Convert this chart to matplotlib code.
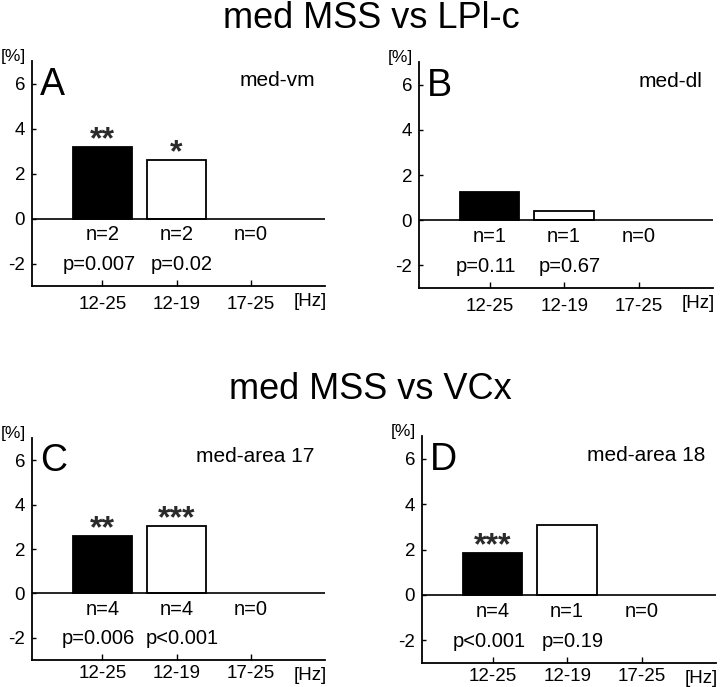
import matplotlib
matplotlib.use('Agg')
import matplotlib.pyplot as plt

plt.rcParams['font.family'] = ['Liberation Sans', 'DejaVu Sans']
plt.rcParams['axes.unicode_minus'] = False

# data
categories = ['12-25', '12-19', '17-25']
panel_letters = ['A', 'B', 'C', 'D']
panel_names = ['med-vm', 'med-dl', 'med-area 17', 'med-area 18']
values_A = [3.17, 2.60]
values_B = [1.23, 0.40]
values_C = [2.58, 3.02]
values_D = [1.85, 3.08]
n_A = ['n=2', 'n=2', 'n=0']
n_B = ['n=1', 'n=1', 'n=0']
n_C = ['n=4', 'n=4', 'n=0']
n_D = ['n=4', 'n=1', 'n=0']
p_A = ['p=0.007', 'p=0.02']
p_B = ['p=0.11', 'p=0.67']
p_C = ['p=0.006', 'p<0.001']
p_D = ['p<0.001', 'p=0.19']
stars_A = ['**', '*']
stars_B = ['', '']
stars_C = ['**', '***']
stars_D = ['***', '']
titles = ['med MSS vs LPl-c', 'med MSS vs VCx']

bar_colors = ['black', 'white']
W, H = 720, 687

fig = plt.figure(figsize=(W / 100, H / 100), dpi=100)


def px_axes(left, right, top, bottom):
    return fig.add_axes([left / W, 1 - bottom / H, (right - left) / W, (bottom - top) / H])


# axes boxes in pixels: left, right, top, bottom
boxes = [(32, 325, 61, 286), (419, 713, 62, 288), (32, 325, 438, 660), (422, 716, 436, 663)]
xpads = [7, 7, 3.5, 3.5]
all_vals = [values_A, values_B, values_C, values_D]
all_n = [n_A, n_B, n_C, n_D]
all_p = [p_A, p_B, p_C, p_D]
all_stars = [stars_A, stars_B, stars_C, stars_D]

xpos = [1, 2, 3]
p_shift = [-0.05, 0.07]
for i, box in enumerate(boxes):
    ax = px_axes(*box)
    vals = all_vals[i]
    ax.bar(xpos[:len(vals)], vals, width=0.8, color=bar_colors, edgecolor='black', lw=1.3, zorder=3)
    ax.axhline(0, color='black', lw=1.2, zorder=4)
    ax.set_xlim(0.05, 4.0)
    ax.set_ylim(-3, 7)
    for s in ['top', 'right']:
        ax.spines[s].set_visible(False)
    for s in ['left', 'bottom']:
        ax.spines[s].set_linewidth(1.3)
    ax.set_yticks([-2, 0, 2, 4, 6])
    ax.set_xticks(xpos)
    ax.set_xticklabels(categories)
    ax.tick_params(axis='x', direction='in', length=4, width=1, pad=xpads[i], labelsize=13.5)
    ax.tick_params(axis='y', direction='in', length=3, width=1, pad=5, labelsize=13.5)

    for j, x in enumerate(xpos):
        ax.text(x, -0.72, all_n[i][j], ha='center', va='center', fontsize=14.5)
    for j, p in enumerate(all_p[i]):
        ax.text(xpos[j] + p_shift[j], -2.05, p, ha='center', va='center', fontsize=14.5)
    for j, st in enumerate(all_stars[i]):
        if st:
            ax.text(xpos[j], vals[j] - 0.05, st, ha='center', va='baseline', fontsize=23,
                    fontweight='bold', color='#2a2a2a')

    ax.text(3.8, -3.3, '[Hz]', ha='center', va='top', fontsize=13.5, clip_on=False)
    ax.annotate('[%]', xy=(0, 1), xycoords='axes fraction', xytext=(-4, 3),
                textcoords='offset points', ha='right', va='center', fontsize=12.5)
    ax.text(0.027, 0.85, panel_letters[i], transform=ax.transAxes, ha='left',
            va='baseline', fontsize=27)
    ax.text(0.965, 0.89, panel_names[i], transform=ax.transAxes, ha='right',
            va='baseline', fontsize=15)

fig.text(371 / W, 1 - 28 / H, titles[0], ha='center', va='baseline', fontsize=26)
fig.text(370 / W, 1 - 399 / H, titles[1], ha='center', va='baseline', fontsize=26)

fig.savefig('out.png', dpi=100)
